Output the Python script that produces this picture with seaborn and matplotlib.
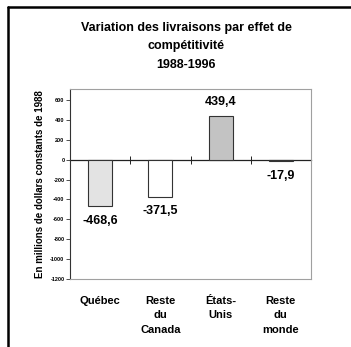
import matplotlib
matplotlib.use("Agg")
import matplotlib.pyplot as plt
from matplotlib.lines import Line2D
import seaborn as sns
import pandas as pd

# Data
regions = ["Québec", "Reste\ndu\nCanada", "États-\nUnis", "Reste\ndu\nmonde"]
values = [-468.6, -371.5, 439.4, -17.9]
value_labels = ["-468,6", "-371,5", "439,4", "-17,9"]
bar_colors = ["#e3e3e3", "#ffffff", "#c3c3c3", "#3f6f6f"]
y_ticks = list(range(-1200, 601, 200))

title_text = "Variation des livraisons par effet de\ncompétitivité\n1988-1996"
y_title = "En millions de dollars constants de 1988"

sns.set_style("white")
plt.rcParams["font.family"] = ["Liberation Sans", "DejaVu Sans"]
plt.rcParams["text.color"] = "black"
plt.rcParams["axes.labelcolor"] = "black"
plt.rcParams["xtick.color"] = "black"
plt.rcParams["ytick.color"] = "black"

df = pd.DataFrame({"region": regions, "value": values})

fig = plt.figure(figsize=(3.51, 3.47), dpi=100)
ax = fig.add_axes([70 / 351, 1 - 279 / 347, 241 / 351, 190 / 347])

sns.barplot(data=df, x="region", y="value", hue="region", palette=bar_colors,
            width=0.4, edgecolor="#333333", linewidth=0.8, legend=False, ax=ax)

ymin, ymax = -1200, 710
ax.set_ylim(ymin, ymax)
ax.set_xlim(-0.5, len(regions) - 0.5)

# frame
for side in ["top", "right", "bottom"]:
    ax.spines[side].set_color("#a0a0a0")
    ax.spines[side].set_linewidth(0.8)
ax.spines["left"].set_color("#333333")
ax.spines["left"].set_linewidth(0.8)

ax.set_yticks(y_ticks)
ax.set_yticklabels([str(t) for t in y_ticks])
ax.tick_params(axis="y", direction="out", length=3, width=0.6, pad=1,
               labelsize=4, color="#333333", left=True)
ax.tick_params(axis="x", length=0, pad=12, labelsize=8)
for lbl in ax.get_xticklabels():
    lbl.set_fontweight("bold")
    lbl.set_verticalalignment("top")
    lbl.set_linespacing(1.6)
for lbl in ax.get_yticklabels():
    lbl.set_fontweight("bold")

ax.set_xlabel("")
ax.set_ylabel(y_title, fontsize=7, fontweight="bold", labelpad=4)

# zero line with category separators
zero_axis = ax.secondary_xaxis(0, transform=ax.transData)
zero_axis.spines["bottom"].set_color("#222222")
zero_axis.spines["bottom"].set_linewidth(0.9)
zero_axis.set_xticks([i + 0.5 for i in range(len(regions))])
zero_axis.tick_params(axis="x", direction="inout", length=6, width=0.7,
                      color="#222222", labelbottom=False)

# value labels
for i, (v, t) in enumerate(zip(values, value_labels)):
    off = 10 if v >= 0 else -10.5
    ax.annotate(t, (i, v), xytext=(0, off), textcoords="offset points",
                ha="center", va="center", fontsize=9, fontweight="bold")

fig.text(186 / 351, 1 - 22 / 347, title_text, ha="center", va="top",
         fontsize=9, fontweight="bold", linespacing=1.7)

# outer border (left and top)
fig.add_artist(Line2D([8 / 351, 8 / 351], [0, 1 - 7 / 347],
                      transform=fig.transFigure, color="black", linewidth=1.8))
fig.add_artist(Line2D([8 / 351, 1], [1 - 7 / 347, 1 - 7 / 347],
                      transform=fig.transFigure, color="black", linewidth=1.8))

fig.savefig("out.png", dpi=100)
